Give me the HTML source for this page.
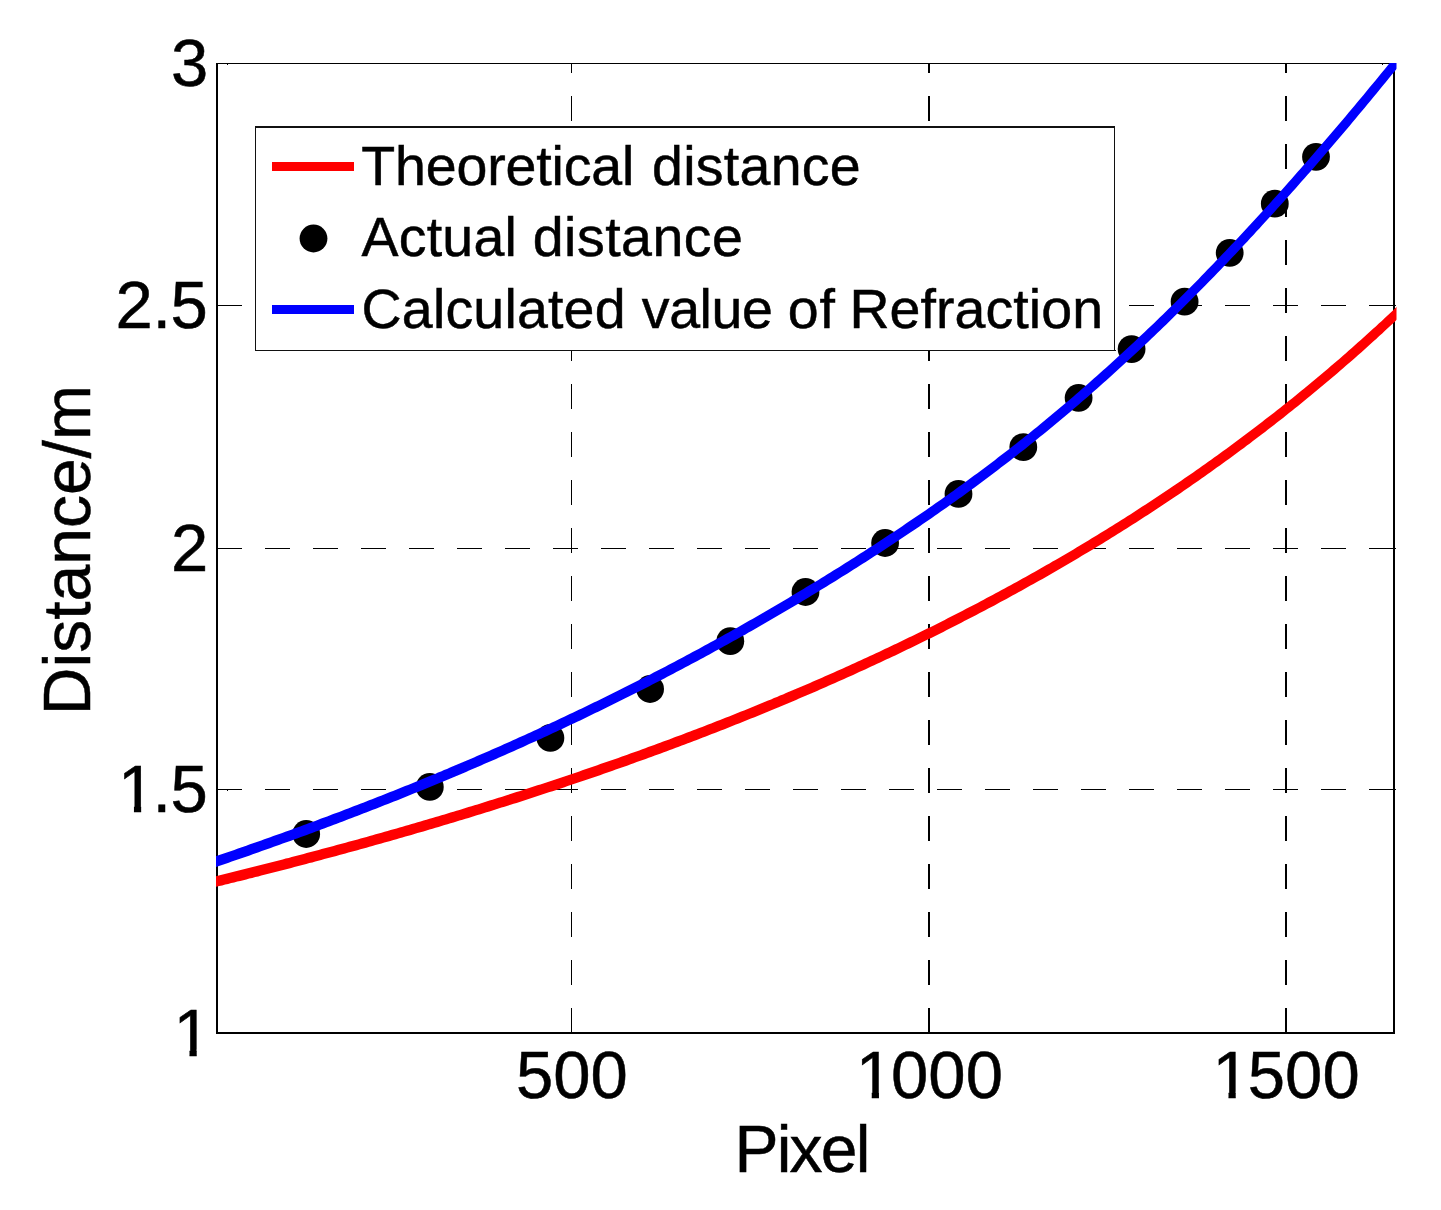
<!DOCTYPE html>
<html lang="en"><head><meta charset="utf-8"><title>Distance vs Pixel</title>
<style>
html,body{margin:0;padding:0;background:#fff;}
body{width:1441px;height:1210px;overflow:hidden;}
svg{display:block;}
text{font-family:"Liberation Sans",Arial,Helvetica,sans-serif;fill:#000;stroke:#000;stroke-width:0.5px;}
.t{font-size:67px;}
.xl{font-size:66px;}
.lg{font-size:55.5px;}
</style></head><body>
<svg width="1441" height="1210" viewBox="0 0 1441 1210">
<rect x="0" y="0" width="1441" height="1210" fill="#fff"/>
<defs><clipPath id="ax"><rect x="216" y="63" width="1180.5" height="972"/></clipPath></defs>
<g shape-rendering="crispEdges" fill="#000">
<rect x="217" y="305" width="25" height="1"/>
<rect x="265" y="305" width="25" height="1"/>
<rect x="313" y="305" width="25" height="1"/>
<rect x="361" y="305" width="25" height="1"/>
<rect x="409" y="305" width="25" height="1"/>
<rect x="457" y="305" width="25" height="1"/>
<rect x="505" y="305" width="25" height="1"/>
<rect x="553" y="305" width="25" height="1"/>
<rect x="601" y="305" width="25" height="1"/>
<rect x="649" y="305" width="25" height="1"/>
<rect x="697" y="305" width="25" height="1"/>
<rect x="745" y="305" width="25" height="1"/>
<rect x="793" y="305" width="25" height="1"/>
<rect x="841" y="305" width="25" height="1"/>
<rect x="889" y="305" width="25" height="1"/>
<rect x="937" y="305" width="25" height="1"/>
<rect x="985" y="305" width="25" height="1"/>
<rect x="1033" y="305" width="25" height="1"/>
<rect x="1081" y="305" width="25" height="1"/>
<rect x="1129" y="305" width="25" height="1"/>
<rect x="1177" y="305" width="25" height="1"/>
<rect x="1225" y="305" width="25" height="1"/>
<rect x="1273" y="305" width="25" height="1"/>
<rect x="1321" y="305" width="25" height="1"/>
<rect x="1369" y="305" width="24" height="1"/>
<rect x="217" y="548" width="25" height="1"/>
<rect x="265" y="548" width="25" height="1"/>
<rect x="313" y="548" width="25" height="1"/>
<rect x="361" y="548" width="25" height="1"/>
<rect x="409" y="548" width="25" height="1"/>
<rect x="457" y="548" width="25" height="1"/>
<rect x="505" y="548" width="25" height="1"/>
<rect x="553" y="548" width="25" height="1"/>
<rect x="601" y="548" width="25" height="1"/>
<rect x="649" y="548" width="25" height="1"/>
<rect x="697" y="548" width="25" height="1"/>
<rect x="745" y="548" width="25" height="1"/>
<rect x="793" y="548" width="25" height="1"/>
<rect x="841" y="548" width="25" height="1"/>
<rect x="889" y="548" width="25" height="1"/>
<rect x="937" y="548" width="25" height="1"/>
<rect x="985" y="548" width="25" height="1"/>
<rect x="1033" y="548" width="25" height="1"/>
<rect x="1081" y="548" width="25" height="1"/>
<rect x="1129" y="548" width="25" height="1"/>
<rect x="1177" y="548" width="25" height="1"/>
<rect x="1225" y="548" width="25" height="1"/>
<rect x="1273" y="548" width="25" height="1"/>
<rect x="1321" y="548" width="25" height="1"/>
<rect x="1369" y="548" width="24" height="1"/>
<rect x="217" y="789" width="25" height="1"/>
<rect x="265" y="789" width="25" height="1"/>
<rect x="313" y="789" width="25" height="1"/>
<rect x="361" y="789" width="25" height="1"/>
<rect x="409" y="789" width="25" height="1"/>
<rect x="457" y="789" width="25" height="1"/>
<rect x="505" y="789" width="25" height="1"/>
<rect x="553" y="789" width="25" height="1"/>
<rect x="601" y="789" width="25" height="1"/>
<rect x="649" y="789" width="25" height="1"/>
<rect x="697" y="789" width="25" height="1"/>
<rect x="745" y="789" width="25" height="1"/>
<rect x="793" y="789" width="25" height="1"/>
<rect x="841" y="789" width="25" height="1"/>
<rect x="889" y="789" width="25" height="1"/>
<rect x="937" y="789" width="25" height="1"/>
<rect x="985" y="789" width="25" height="1"/>
<rect x="1033" y="789" width="25" height="1"/>
<rect x="1081" y="789" width="25" height="1"/>
<rect x="1129" y="789" width="25" height="1"/>
<rect x="1177" y="789" width="25" height="1"/>
<rect x="1225" y="789" width="25" height="1"/>
<rect x="1273" y="789" width="25" height="1"/>
<rect x="1321" y="789" width="25" height="1"/>
<rect x="1369" y="789" width="24" height="1"/>
<rect x="571" y="1008" width="1" height="25"/>
<rect x="571" y="960" width="1" height="25"/>
<rect x="571" y="912" width="1" height="25"/>
<rect x="571" y="864" width="1" height="25"/>
<rect x="571" y="816" width="1" height="25"/>
<rect x="571" y="768" width="1" height="25"/>
<rect x="571" y="720" width="1" height="25"/>
<rect x="571" y="672" width="1" height="25"/>
<rect x="571" y="624" width="1" height="25"/>
<rect x="571" y="576" width="1" height="25"/>
<rect x="571" y="528" width="1" height="25"/>
<rect x="571" y="480" width="1" height="25"/>
<rect x="571" y="432" width="1" height="25"/>
<rect x="571" y="384" width="1" height="25"/>
<rect x="571" y="336" width="1" height="25"/>
<rect x="571" y="288" width="1" height="25"/>
<rect x="571" y="240" width="1" height="25"/>
<rect x="571" y="192" width="1" height="25"/>
<rect x="571" y="144" width="1" height="25"/>
<rect x="571" y="96" width="1" height="25"/>
<rect x="571" y="63" width="1" height="10"/>
<rect x="928" y="1008" width="2" height="25"/>
<rect x="928" y="960" width="2" height="25"/>
<rect x="928" y="912" width="2" height="25"/>
<rect x="928" y="864" width="2" height="25"/>
<rect x="928" y="816" width="2" height="25"/>
<rect x="928" y="768" width="2" height="25"/>
<rect x="928" y="720" width="2" height="25"/>
<rect x="928" y="672" width="2" height="25"/>
<rect x="928" y="624" width="2" height="25"/>
<rect x="928" y="576" width="2" height="25"/>
<rect x="928" y="528" width="2" height="25"/>
<rect x="928" y="480" width="2" height="25"/>
<rect x="928" y="432" width="2" height="25"/>
<rect x="928" y="384" width="2" height="25"/>
<rect x="928" y="336" width="2" height="25"/>
<rect x="928" y="288" width="2" height="25"/>
<rect x="928" y="240" width="2" height="25"/>
<rect x="928" y="192" width="2" height="25"/>
<rect x="928" y="144" width="2" height="25"/>
<rect x="928" y="96" width="2" height="25"/>
<rect x="928" y="63" width="2" height="10"/>
<rect x="1285" y="1008" width="2" height="25"/>
<rect x="1285" y="960" width="2" height="25"/>
<rect x="1285" y="912" width="2" height="25"/>
<rect x="1285" y="864" width="2" height="25"/>
<rect x="1285" y="816" width="2" height="25"/>
<rect x="1285" y="768" width="2" height="25"/>
<rect x="1285" y="720" width="2" height="25"/>
<rect x="1285" y="672" width="2" height="25"/>
<rect x="1285" y="624" width="2" height="25"/>
<rect x="1285" y="576" width="2" height="25"/>
<rect x="1285" y="528" width="2" height="25"/>
<rect x="1285" y="480" width="2" height="25"/>
<rect x="1285" y="432" width="2" height="25"/>
<rect x="1285" y="384" width="2" height="25"/>
<rect x="1285" y="336" width="2" height="25"/>
<rect x="1285" y="288" width="2" height="25"/>
<rect x="1285" y="240" width="2" height="25"/>
<rect x="1285" y="192" width="2" height="25"/>
<rect x="1285" y="144" width="2" height="25"/>
<rect x="1285" y="96" width="2" height="25"/>
<rect x="1285" y="63" width="2" height="10"/>
</g>
<g shape-rendering="crispEdges"><rect x="255" y="126" width="860" height="225" fill="#fff"/><g fill="#111"><rect x="255" y="126" width="860" height="2"/><rect x="255" y="350" width="861" height="1"/><rect x="255" y="126" width="1" height="225"/><rect x="1114" y="126" width="1" height="225"/></g></g>
<g shape-rendering="crispEdges" fill="#000">
<rect x="216" y="63" width="2" height="971"/>
<rect x="1393" y="63" width="2" height="971"/>
<rect x="216" y="63" width="1179" height="1"/>
<rect x="216" y="1032" width="1179" height="2"/>
<rect x="227" y="64" width="1" height="1"/><rect x="1382" y="64" width="1" height="1"/><rect x="227" y="790" width="1" height="1"/><rect x="1395" y="305" width="1" height="1"/><rect x="1395" y="548" width="1" height="1"/><rect x="1395" y="789" width="1" height="1"/>
</g>
<g fill="#000">
<circle cx="306.2" cy="834" r="13.9"/>
<circle cx="429.8" cy="786.9" r="13.9"/>
<circle cx="550.4" cy="737.9" r="13.9"/>
<circle cx="650.1" cy="689" r="13.9"/>
<circle cx="730.3" cy="641.2" r="13.9"/>
<circle cx="805.5" cy="592" r="13.9"/>
<circle cx="885.1" cy="543" r="13.9"/>
<circle cx="958.5" cy="493.9" r="13.9"/>
<circle cx="1023.3" cy="447.1" r="13.9"/>
<circle cx="1078.6" cy="397.8" r="13.9"/>
<circle cx="1131.6" cy="349.1" r="13.9"/>
<circle cx="1184.6" cy="301.7" r="13.9"/>
<circle cx="1229.7" cy="252.8" r="13.9"/>
<circle cx="1274.8" cy="203.7" r="13.9"/>
<circle cx="1316" cy="156.8" r="13.9"/>
</g>
<g clip-path="url(#ax)" stroke="none">
<path d="M210.8,877.5 L213.8,876.8 L216.8,876.0 L219.8,875.3 L222.8,874.5 L225.8,873.8 L228.8,873.1 L231.8,872.3 L234.7,871.6 L237.7,870.8 L240.7,870.1 L243.7,869.3 L246.7,868.6 L249.7,867.8 L252.7,867.1 L255.7,866.3 L258.7,865.6 L261.7,864.8 L264.7,864.0 L267.7,863.3 L270.7,862.5 L273.7,861.7 L276.7,861.0 L279.7,860.2 L282.7,859.4 L285.7,858.6 L288.7,857.9 L291.7,857.1 L294.7,856.3 L297.7,855.5 L300.7,854.7 L303.7,853.9 L306.7,853.1 L309.7,852.3 L312.7,851.5 L315.7,850.7 L318.7,850.0 L321.7,849.1 L324.7,848.3 L327.7,847.5 L330.7,846.7 L333.6,845.9 L336.6,845.1 L339.6,844.3 L342.6,843.5 L345.6,842.7 L348.6,841.8 L351.6,841.0 L354.6,840.2 L357.6,839.4 L360.6,838.5 L363.6,837.7 L366.6,836.9 L369.6,836.0 L372.6,835.2 L375.6,834.3 L378.6,833.5 L381.6,832.7 L384.6,831.8 L387.6,831.0 L390.6,830.1 L393.6,829.3 L396.6,828.4 L399.6,827.5 L402.6,826.7 L405.6,825.8 L408.6,824.9 L411.6,824.1 L414.6,823.2 L417.6,822.3 L420.6,821.5 L423.5,820.6 L426.5,819.7 L429.5,818.8 L432.5,817.9 L435.5,817.0 L438.5,816.2 L441.5,815.3 L444.5,814.4 L447.5,813.5 L450.5,812.6 L453.5,811.7 L456.5,810.8 L459.5,809.9 L462.5,808.9 L465.5,808.0 L468.5,807.1 L471.5,806.2 L474.5,805.3 L477.5,804.4 L480.5,803.4 L483.5,802.5 L486.5,801.6 L489.5,800.6 L492.5,799.7 L495.5,798.8 L498.5,797.8 L501.5,796.9 L504.4,795.9 L507.4,795.0 L510.4,794.0 L513.4,793.1 L516.4,792.1 L519.4,791.2 L522.4,790.2 L525.4,789.2 L528.4,788.3 L531.4,787.3 L534.4,786.3 L537.4,785.3 L540.4,784.4 L543.4,783.4 L546.4,782.4 L549.4,781.4 L552.4,780.4 L555.4,779.4 L558.4,778.4 L561.4,777.4 L564.4,776.4 L567.4,775.4 L570.4,774.4 L573.4,773.4 L576.4,772.4 L579.3,771.4 L582.3,770.3 L585.3,769.3 L588.3,768.3 L591.3,767.3 L594.3,766.2 L597.3,765.2 L600.3,764.1 L603.3,763.1 L606.3,762.1 L609.3,761.0 L612.3,760.0 L615.3,758.9 L618.3,757.9 L621.3,756.8 L624.3,755.7 L627.3,754.7 L630.3,753.6 L633.3,752.5 L636.3,751.4 L639.3,750.4 L642.3,749.3 L645.3,748.2 L648.2,747.1 L651.2,746.0 L654.2,744.9 L657.2,743.8 L660.2,742.7 L663.2,741.6 L666.2,740.5 L669.2,739.4 L672.2,738.3 L675.2,737.1 L678.2,736.0 L681.2,734.9 L684.2,733.8 L687.2,732.6 L690.2,731.5 L693.2,730.3 L696.2,729.2 L699.2,728.0 L702.2,726.9 L705.2,725.7 L708.2,724.6 L711.2,723.4 L714.1,722.2 L717.1,721.1 L720.1,719.9 L723.1,718.7 L726.1,717.5 L729.1,716.4 L732.1,715.2 L735.1,714.0 L738.1,712.8 L741.1,711.6 L744.1,710.4 L747.1,709.2 L750.1,708.0 L753.1,706.7 L756.1,705.5 L759.1,704.3 L762.1,703.1 L765.1,701.8 L768.1,700.6 L771.1,699.4 L774.0,698.1 L777.0,696.9 L780.0,695.6 L783.0,694.4 L786.0,693.1 L789.0,691.8 L792.0,690.6 L795.0,689.3 L798.0,688.0 L801.0,686.7 L804.0,685.5 L807.0,684.2 L810.0,682.9 L813.0,681.6 L816.0,680.3 L819.0,679.0 L822.0,677.7 L825.0,676.3 L828.0,675.0 L830.9,673.7 L833.9,672.4 L836.9,671.0 L839.9,669.7 L842.9,668.4 L845.9,667.0 L848.9,665.7 L851.9,664.3 L854.9,662.9 L857.9,661.6 L860.9,660.2 L863.9,658.8 L866.9,657.4 L869.9,656.1 L872.9,654.7 L875.9,653.3 L878.9,651.9 L881.9,650.5 L884.8,649.1 L887.8,647.7 L890.8,646.2 L893.8,644.8 L896.8,643.4 L899.8,642.0 L902.8,640.5 L905.8,639.1 L908.8,637.6 L911.8,636.2 L914.8,634.7 L917.8,633.3 L920.8,631.8 L923.8,630.3 L926.8,628.8 L929.8,627.4 L932.8,625.9 L935.8,624.4 L938.7,622.9 L941.7,621.4 L944.7,619.9 L947.7,618.3 L950.7,616.8 L953.7,615.3 L956.7,613.8 L959.7,612.2 L962.7,610.7 L965.7,609.1 L968.7,607.6 L971.7,606.0 L974.7,604.5 L977.7,602.9 L980.7,601.3 L983.7,599.7 L986.6,598.1 L989.6,596.5 L992.6,594.9 L995.6,593.3 L998.6,591.7 L1001.6,590.1 L1004.6,588.5 L1007.6,586.8 L1010.6,585.2 L1013.6,583.6 L1016.6,581.9 L1019.6,580.3 L1022.6,578.6 L1025.6,576.9 L1028.6,575.3 L1031.6,573.6 L1034.5,571.9 L1037.5,570.2 L1040.5,568.5 L1043.5,566.8 L1046.5,565.1 L1049.5,563.4 L1052.5,561.6 L1055.5,559.9 L1058.5,558.2 L1061.5,556.4 L1064.5,554.7 L1067.5,552.9 L1070.5,551.2 L1073.5,549.4 L1076.5,547.6 L1079.5,545.8 L1082.4,544.0 L1085.4,542.2 L1088.4,540.4 L1091.4,538.6 L1094.4,536.8 L1097.4,534.9 L1100.4,533.1 L1103.4,531.3 L1106.4,529.4 L1109.4,527.6 L1112.4,525.7 L1115.4,523.8 L1118.4,521.9 L1121.4,520.1 L1124.4,518.2 L1127.3,516.3 L1130.3,514.4 L1133.3,512.4 L1136.3,510.5 L1139.3,508.6 L1142.3,506.6 L1145.3,504.7 L1148.3,502.7 L1151.3,500.8 L1154.3,498.8 L1157.3,496.8 L1160.3,494.8 L1163.3,492.8 L1166.3,490.8 L1169.3,488.8 L1172.2,486.8 L1175.2,484.7 L1178.2,482.7 L1181.2,480.7 L1184.2,478.6 L1187.2,476.5 L1190.2,474.5 L1193.2,472.4 L1196.2,470.3 L1199.2,468.2 L1202.2,466.1 L1205.2,464.0 L1208.2,461.8 L1211.2,459.7 L1214.1,457.6 L1217.1,455.4 L1220.1,453.2 L1223.1,451.1 L1226.1,448.9 L1229.1,446.7 L1232.1,444.5 L1235.1,442.3 L1238.1,440.1 L1241.1,437.8 L1244.1,435.6 L1247.1,433.3 L1250.1,431.1 L1253.1,428.8 L1256.1,426.5 L1259.0,424.2 L1262.0,422.0 L1265.0,419.6 L1268.0,417.3 L1271.0,415.0 L1274.0,412.7 L1277.0,410.3 L1280.0,407.9 L1283.0,405.6 L1286.0,403.2 L1289.0,400.8 L1292.0,398.4 L1295.0,396.0 L1298.0,393.5 L1301.0,391.1 L1303.9,388.7 L1306.9,386.2 L1309.9,383.7 L1312.9,381.3 L1315.9,378.8 L1318.9,376.3 L1321.9,373.7 L1324.9,371.2 L1327.9,368.7 L1330.9,366.1 L1333.9,363.6 L1336.9,361.0 L1339.9,358.4 L1342.9,355.8 L1345.9,353.2 L1348.8,350.6 L1351.8,347.9 L1354.8,345.3 L1357.8,342.6 L1360.8,339.9 L1363.8,337.3 L1366.8,334.6 L1369.8,331.8 L1372.8,329.1 L1375.8,326.4 L1378.8,323.6 L1381.8,320.9 L1384.8,318.1 L1387.8,315.3 L1390.8,312.5 L1393.7,309.7 L1396.7,306.8 L1403.3,313.7 L1400.3,316.5 L1397.2,319.4 L1394.2,322.2 L1391.2,325.0 L1388.2,327.8 L1385.2,330.6 L1382.2,333.4 L1379.2,336.1 L1376.2,338.9 L1373.2,341.6 L1370.2,344.3 L1367.2,347.0 L1364.2,349.7 L1361.2,352.4 L1358.2,355.1 L1355.2,357.7 L1352.1,360.4 L1349.1,363.0 L1346.1,365.6 L1343.1,368.2 L1340.1,370.8 L1337.1,373.4 L1334.1,376.0 L1331.1,378.5 L1328.1,381.1 L1325.1,383.6 L1322.1,386.1 L1319.1,388.6 L1316.1,391.1 L1313.1,393.6 L1310.1,396.1 L1307.0,398.6 L1304.0,401.0 L1301.0,403.5 L1298.0,405.9 L1295.0,408.3 L1292.0,410.7 L1289.0,413.1 L1286.0,415.5 L1283.0,417.9 L1280.0,420.3 L1277.0,422.6 L1274.0,425.0 L1271.0,427.3 L1268.0,429.6 L1265.0,431.9 L1261.9,434.3 L1258.9,436.5 L1255.9,438.8 L1252.9,441.1 L1249.9,443.4 L1246.9,445.6 L1243.9,447.9 L1240.9,450.1 L1237.9,452.3 L1234.9,454.5 L1231.9,456.8 L1228.9,459.0 L1225.9,461.1 L1222.9,463.3 L1219.9,465.5 L1216.8,467.6 L1213.8,469.8 L1210.8,471.9 L1207.8,474.1 L1204.8,476.2 L1201.8,478.3 L1198.8,480.4 L1195.8,482.5 L1192.8,484.6 L1189.8,486.7 L1186.8,488.7 L1183.8,490.8 L1180.8,492.9 L1177.8,494.9 L1174.7,496.9 L1171.7,499.0 L1168.7,501.0 L1165.7,503.0 L1162.7,505.0 L1159.7,507.0 L1156.7,509.0 L1153.7,511.0 L1150.7,512.9 L1147.7,514.9 L1144.7,516.8 L1141.7,518.8 L1138.7,520.7 L1135.7,522.7 L1132.7,524.6 L1129.6,526.5 L1126.6,528.4 L1123.6,530.3 L1120.6,532.2 L1117.6,534.1 L1114.6,536.0 L1111.6,537.8 L1108.6,539.7 L1105.6,541.5 L1102.6,543.4 L1099.6,545.2 L1096.6,547.1 L1093.6,548.9 L1090.6,550.7 L1087.6,552.5 L1084.5,554.3 L1081.5,556.1 L1078.5,557.9 L1075.5,559.7 L1072.5,561.5 L1069.5,563.2 L1066.5,565.0 L1063.5,566.8 L1060.5,568.5 L1057.5,570.3 L1054.5,572.0 L1051.5,573.7 L1048.5,575.4 L1045.5,577.2 L1042.5,578.9 L1039.5,580.6 L1036.4,582.3 L1033.4,584.0 L1030.4,585.6 L1027.4,587.3 L1024.4,589.0 L1021.4,590.7 L1018.4,592.3 L1015.4,594.0 L1012.4,595.6 L1009.4,597.3 L1006.4,598.9 L1003.4,600.5 L1000.4,602.1 L997.4,603.8 L994.4,605.4 L991.4,607.0 L988.3,608.6 L985.3,610.2 L982.3,611.7 L979.3,613.3 L976.3,614.9 L973.3,616.5 L970.3,618.0 L967.3,619.6 L964.3,621.1 L961.3,622.7 L958.3,624.2 L955.3,625.8 L952.3,627.3 L949.3,628.8 L946.3,630.3 L943.3,631.9 L940.2,633.4 L937.2,634.9 L934.2,636.4 L931.2,637.9 L928.2,639.3 L925.2,640.8 L922.2,642.3 L919.2,643.8 L916.2,645.2 L913.2,646.7 L910.2,648.2 L907.2,649.6 L904.2,651.0 L901.2,652.5 L898.2,653.9 L895.2,655.4 L892.2,656.8 L889.2,658.2 L886.1,659.6 L883.1,661.0 L880.1,662.4 L877.1,663.8 L874.1,665.2 L871.1,666.6 L868.1,668.0 L865.1,669.4 L862.1,670.8 L859.1,672.1 L856.1,673.5 L853.1,674.9 L850.1,676.2 L847.1,677.6 L844.1,678.9 L841.1,680.3 L838.1,681.6 L835.1,682.9 L832.0,684.3 L829.0,685.6 L826.0,686.9 L823.0,688.2 L820.0,689.6 L817.0,690.9 L814.0,692.2 L811.0,693.5 L808.0,694.8 L805.0,696.1 L802.0,697.3 L799.0,698.6 L796.0,699.9 L793.0,701.2 L790.0,702.5 L787.0,703.7 L784.0,705.0 L781.0,706.2 L778.0,707.5 L774.9,708.7 L771.9,710.0 L768.9,711.2 L765.9,712.5 L762.9,713.7 L759.9,714.9 L756.9,716.2 L753.9,717.4 L750.9,718.6 L747.9,719.8 L744.9,721.0 L741.9,722.2 L738.9,723.4 L735.9,724.6 L732.9,725.8 L729.9,727.0 L726.9,728.2 L723.9,729.4 L720.9,730.6 L717.9,731.7 L714.8,732.9 L711.8,734.1 L708.8,735.2 L705.8,736.4 L702.8,737.6 L699.8,738.7 L696.8,739.9 L693.8,741.0 L690.8,742.2 L687.8,743.3 L684.8,744.4 L681.8,745.6 L678.8,746.7 L675.8,747.8 L672.8,748.9 L669.8,750.1 L666.8,751.2 L663.8,752.3 L660.8,753.4 L657.8,754.5 L654.8,755.6 L651.8,756.7 L648.7,757.8 L645.7,758.9 L642.7,760.0 L639.7,761.1 L636.7,762.1 L633.7,763.2 L630.7,764.3 L627.7,765.4 L624.7,766.4 L621.7,767.5 L618.7,768.6 L615.7,769.6 L612.7,770.7 L609.7,771.7 L606.7,772.8 L603.7,773.8 L600.7,774.9 L597.7,775.9 L594.7,776.9 L591.7,778.0 L588.7,779.0 L585.7,780.0 L582.7,781.1 L579.6,782.1 L576.6,783.1 L573.6,784.1 L570.6,785.1 L567.6,786.1 L564.6,787.2 L561.6,788.2 L558.6,789.2 L555.6,790.2 L552.6,791.2 L549.6,792.1 L546.6,793.1 L543.6,794.1 L540.6,795.1 L537.6,796.1 L534.6,797.1 L531.6,798.0 L528.6,799.0 L525.6,800.0 L522.6,800.9 L519.6,801.9 L516.6,802.9 L513.6,803.8 L510.6,804.8 L507.6,805.7 L504.5,806.7 L501.5,807.6 L498.5,808.6 L495.5,809.5 L492.5,810.5 L489.5,811.4 L486.5,812.3 L483.5,813.3 L480.5,814.2 L477.5,815.1 L474.5,816.0 L471.5,817.0 L468.5,817.9 L465.5,818.8 L462.5,819.7 L459.5,820.6 L456.5,821.5 L453.5,822.4 L450.5,823.3 L447.5,824.2 L444.5,825.1 L441.5,826.0 L438.5,826.9 L435.5,827.8 L432.5,828.7 L429.5,829.6 L426.5,830.5 L423.4,831.4 L420.4,832.2 L417.4,833.1 L414.4,834.0 L411.4,834.9 L408.4,835.7 L405.4,836.6 L402.4,837.5 L399.4,838.3 L396.4,839.2 L393.4,840.0 L390.4,840.9 L387.4,841.8 L384.4,842.6 L381.4,843.5 L378.4,844.3 L375.4,845.1 L372.4,846.0 L369.4,846.8 L366.4,847.7 L363.4,848.5 L360.4,849.3 L357.4,850.2 L354.4,851.0 L351.4,851.8 L348.4,852.6 L345.4,853.5 L342.4,854.3 L339.4,855.1 L336.4,855.9 L333.3,856.7 L330.3,857.5 L327.3,858.3 L324.3,859.1 L321.3,860.0 L318.3,860.8 L315.3,861.6 L312.3,862.4 L309.3,863.1 L306.3,863.9 L303.3,864.7 L300.3,865.5 L297.3,866.3 L294.3,867.1 L291.3,867.9 L288.3,868.7 L285.3,869.4 L282.3,870.2 L279.3,871.0 L276.3,871.8 L273.3,872.5 L270.3,873.3 L267.3,874.1 L264.3,874.8 L261.3,875.6 L258.3,876.4 L255.3,877.1 L252.3,877.9 L249.3,878.6 L246.3,879.4 L243.3,880.2 L240.3,880.9 L237.3,881.6 L234.2,882.4 L231.2,883.1 L228.2,883.9 L225.2,884.6 L222.2,885.4 L219.2,886.1 L216.2,886.8 L213.2,887.6Z" fill="#f00"/>
<path d="M210.3,858.1 L213.3,857.1 L216.3,856.0 L219.3,855.0 L222.3,854.0 L225.3,853.0 L228.3,851.9 L231.3,850.9 L234.3,849.9 L237.3,848.8 L240.3,847.8 L243.3,846.7 L246.3,845.7 L249.3,844.6 L252.3,843.6 L255.3,842.5 L258.3,841.5 L261.3,840.4 L264.3,839.3 L267.3,838.3 L270.3,837.2 L273.3,836.1 L276.3,835.1 L279.3,834.0 L282.3,832.9 L285.3,831.8 L288.3,830.7 L291.3,829.7 L294.2,828.6 L297.2,827.5 L300.2,826.4 L303.2,825.3 L306.2,824.2 L309.2,823.1 L312.2,822.0 L315.2,820.9 L318.2,819.7 L321.2,818.6 L324.2,817.5 L327.2,816.4 L330.2,815.3 L333.2,814.1 L336.2,813.0 L339.2,811.9 L342.2,810.7 L345.2,809.6 L348.2,808.4 L351.2,807.3 L354.2,806.1 L357.2,805.0 L360.2,803.8 L363.2,802.7 L366.2,801.5 L369.1,800.3 L372.1,799.2 L375.1,798.0 L378.1,796.8 L381.1,795.7 L384.1,794.5 L387.1,793.3 L390.1,792.1 L393.1,790.9 L396.1,789.7 L399.1,788.5 L402.1,787.3 L405.1,786.1 L408.1,784.9 L411.1,783.7 L414.1,782.5 L417.1,781.3 L420.1,780.0 L423.1,778.8 L426.1,777.6 L429.1,776.3 L432.1,775.1 L435.1,773.9 L438.0,772.6 L441.0,771.4 L444.0,770.1 L447.0,768.9 L450.0,767.6 L453.0,766.3 L456.0,765.1 L459.0,763.8 L462.0,762.5 L465.0,761.3 L468.0,760.0 L471.0,758.7 L474.0,757.4 L477.0,756.1 L480.0,754.8 L483.0,753.5 L486.0,752.2 L489.0,750.9 L492.0,749.6 L495.0,748.3 L498.0,747.0 L501.0,745.7 L503.9,744.3 L506.9,743.0 L509.9,741.7 L512.9,740.3 L515.9,739.0 L518.9,737.6 L521.9,736.3 L524.9,734.9 L527.9,733.6 L530.9,732.2 L533.9,730.8 L536.9,729.5 L539.9,728.1 L542.9,726.7 L545.9,725.3 L548.9,723.9 L551.9,722.6 L554.9,721.2 L557.9,719.8 L560.9,718.3 L563.8,716.9 L566.8,715.5 L569.8,714.1 L572.8,712.7 L575.8,711.3 L578.8,709.8 L581.8,708.4 L584.8,707.0 L587.8,705.5 L590.8,704.1 L593.8,702.6 L596.8,701.2 L599.8,699.7 L602.8,698.2 L605.8,696.8 L608.8,695.3 L611.8,693.8 L614.8,692.3 L617.8,690.8 L620.8,689.3 L623.7,687.8 L626.7,686.3 L629.7,684.8 L632.7,683.3 L635.7,681.8 L638.7,680.3 L641.7,678.8 L644.7,677.2 L647.7,675.7 L650.7,674.2 L653.7,672.6 L656.7,671.1 L659.7,669.5 L662.7,668.0 L665.7,666.4 L668.7,664.8 L671.7,663.2 L674.7,661.7 L677.7,660.1 L680.7,658.5 L683.6,656.9 L686.6,655.3 L689.6,653.7 L692.6,652.1 L695.6,650.5 L698.6,648.9 L701.6,647.2 L704.6,645.6 L707.6,644.0 L710.6,642.3 L713.6,640.7 L716.6,639.0 L719.6,637.4 L722.6,635.7 L725.6,634.1 L728.6,632.4 L731.6,630.7 L734.6,629.1 L737.6,627.4 L740.5,625.7 L743.5,624.0 L746.5,622.3 L749.5,620.6 L752.5,618.9 L755.5,617.2 L758.5,615.4 L761.5,613.7 L764.5,612.0 L767.5,610.2 L770.5,608.5 L773.5,606.7 L776.5,605.0 L779.5,603.2 L782.5,601.5 L785.5,599.7 L788.5,597.9 L791.5,596.1 L794.5,594.3 L797.4,592.6 L800.4,590.8 L803.4,589.0 L806.4,587.1 L809.4,585.3 L812.4,583.5 L815.4,581.7 L818.4,579.9 L821.4,578.0 L824.4,576.2 L827.4,574.3 L830.4,572.5 L833.4,570.6 L836.4,568.7 L839.4,566.9 L842.4,565.0 L845.4,563.1 L848.4,561.2 L851.4,559.3 L854.4,557.4 L857.3,555.5 L860.3,553.6 L863.3,551.7 L866.3,549.8 L869.3,547.8 L872.3,545.9 L875.3,543.9 L878.3,542.0 L881.3,540.0 L884.3,538.1 L887.3,536.1 L890.3,534.1 L893.3,532.2 L896.3,530.2 L899.3,528.2 L902.3,526.2 L905.3,524.1 L908.2,522.1 L911.2,520.1 L914.2,518.1 L917.2,516.0 L920.2,514.0 L923.2,511.9 L926.2,509.9 L929.2,507.8 L932.2,505.7 L935.2,503.6 L938.2,501.5 L941.2,499.4 L944.2,497.3 L947.2,495.2 L950.2,493.0 L953.2,490.9 L956.1,488.7 L959.1,486.6 L962.1,484.4 L965.1,482.2 L968.1,480.0 L971.1,477.8 L974.1,475.6 L977.1,473.4 L980.1,471.2 L983.1,469.0 L986.1,466.7 L989.1,464.5 L992.1,462.2 L995.1,459.9 L998.0,457.6 L1001.0,455.3 L1004.0,453.0 L1007.0,450.7 L1010.0,448.4 L1013.0,446.0 L1016.0,443.7 L1019.0,441.3 L1022.0,438.9 L1025.0,436.6 L1028.0,434.2 L1031.0,431.8 L1034.0,429.3 L1037.0,426.9 L1039.9,424.5 L1042.9,422.0 L1045.9,419.6 L1048.9,417.1 L1051.9,414.6 L1054.9,412.1 L1057.9,409.6 L1060.9,407.1 L1063.9,404.6 L1066.9,402.0 L1069.9,399.5 L1072.9,396.9 L1075.9,394.3 L1078.9,391.7 L1081.9,389.1 L1084.9,386.5 L1087.8,383.9 L1090.8,381.3 L1093.8,378.6 L1096.8,376.0 L1099.8,373.3 L1102.8,370.6 L1105.8,367.9 L1108.8,365.2 L1111.8,362.5 L1114.8,359.8 L1117.8,357.1 L1120.8,354.3 L1123.8,351.6 L1126.8,348.8 L1129.8,346.0 L1132.8,343.2 L1135.8,340.4 L1138.7,337.6 L1141.7,334.8 L1144.7,331.9 L1147.7,329.1 L1150.7,326.2 L1153.7,323.4 L1156.7,320.5 L1159.7,317.6 L1162.7,314.7 L1165.7,311.7 L1168.7,308.8 L1171.7,305.9 L1174.7,302.9 L1177.7,300.0 L1180.7,297.0 L1183.7,294.0 L1186.7,291.0 L1189.7,288.0 L1192.7,284.9 L1195.7,281.9 L1198.7,278.9 L1201.6,275.8 L1204.6,272.7 L1207.6,269.6 L1210.6,266.6 L1213.6,263.4 L1216.6,260.3 L1219.6,257.2 L1222.6,254.1 L1225.6,250.9 L1228.6,247.8 L1231.6,244.6 L1234.6,241.4 L1237.6,238.2 L1240.6,235.0 L1243.6,231.8 L1246.6,228.6 L1249.6,225.3 L1252.6,222.1 L1255.6,218.8 L1258.6,215.6 L1261.6,212.3 L1264.6,209.0 L1267.6,205.7 L1270.6,202.4 L1273.6,199.1 L1276.6,195.7 L1279.6,192.4 L1282.6,189.0 L1285.5,185.7 L1288.5,182.3 L1291.5,178.9 L1294.5,175.5 L1297.5,172.1 L1300.5,168.7 L1303.5,165.3 L1306.5,161.9 L1309.5,158.4 L1312.5,155.0 L1315.5,151.5 L1318.5,148.0 L1321.5,144.6 L1324.5,141.1 L1327.5,137.6 L1330.5,134.1 L1333.5,130.5 L1336.5,127.0 L1339.5,123.5 L1342.5,119.9 L1345.5,116.4 L1348.5,112.8 L1351.5,109.3 L1354.5,105.7 L1357.5,102.1 L1360.5,98.5 L1363.5,94.9 L1366.5,91.3 L1369.5,87.6 L1372.5,84.0 L1375.5,80.4 L1378.5,76.7 L1381.5,73.0 L1384.5,69.4 L1387.5,65.7 L1390.5,62.0 L1393.5,58.3 L1396.5,54.6 L1403.5,60.3 L1400.5,64.0 L1397.5,67.8 L1394.5,71.4 L1391.5,75.1 L1388.5,78.8 L1385.5,82.5 L1382.5,86.1 L1379.5,89.8 L1376.5,93.4 L1373.5,97.1 L1370.5,100.7 L1367.5,104.3 L1364.5,107.9 L1361.5,111.5 L1358.5,115.1 L1355.5,118.7 L1352.5,122.3 L1349.5,125.9 L1346.5,129.4 L1343.5,133.0 L1340.5,136.5 L1337.5,140.0 L1334.5,143.5 L1331.5,147.0 L1328.5,150.6 L1325.5,154.0 L1322.5,157.5 L1319.5,161.0 L1316.5,164.5 L1313.5,167.9 L1310.5,171.4 L1307.5,174.8 L1304.5,178.2 L1301.5,181.6 L1298.5,185.0 L1295.5,188.4 L1292.5,191.8 L1289.4,195.2 L1286.4,198.5 L1283.4,201.9 L1280.4,205.2 L1277.4,208.6 L1274.4,211.9 L1271.4,215.2 L1268.4,218.5 L1265.4,221.8 L1262.4,225.1 L1259.4,228.4 L1256.4,231.6 L1253.4,234.9 L1250.4,238.1 L1247.4,241.4 L1244.4,244.6 L1241.4,247.8 L1238.4,251.0 L1235.4,254.2 L1232.4,257.3 L1229.4,260.5 L1226.4,263.7 L1223.4,266.8 L1220.4,269.9 L1217.4,273.1 L1214.4,276.2 L1211.4,279.3 L1208.4,282.3 L1205.3,285.4 L1202.3,288.5 L1199.3,291.5 L1196.3,294.6 L1193.3,297.6 L1190.3,300.6 L1187.3,303.6 L1184.3,306.6 L1181.3,309.6 L1178.3,312.6 L1175.3,315.5 L1172.3,318.5 L1169.3,321.4 L1166.3,324.4 L1163.3,327.3 L1160.3,330.2 L1157.3,333.1 L1154.3,335.9 L1151.3,338.8 L1148.3,341.7 L1145.3,344.5 L1142.2,347.3 L1139.2,350.2 L1136.2,353.0 L1133.2,355.8 L1130.2,358.5 L1127.2,361.3 L1124.2,364.1 L1121.2,366.8 L1118.2,369.6 L1115.2,372.3 L1112.2,375.0 L1109.2,377.7 L1106.2,380.4 L1103.2,383.1 L1100.2,385.8 L1097.2,388.4 L1094.2,391.1 L1091.1,393.7 L1088.1,396.4 L1085.1,399.0 L1082.1,401.6 L1079.1,404.2 L1076.1,406.7 L1073.1,409.3 L1070.1,411.9 L1067.1,414.4 L1064.1,417.0 L1061.1,419.5 L1058.1,422.0 L1055.1,424.5 L1052.1,427.0 L1049.1,429.5 L1046.1,431.9 L1043.0,434.4 L1040.0,436.8 L1037.0,439.3 L1034.0,441.7 L1031.0,444.1 L1028.0,446.5 L1025.0,448.9 L1022.0,451.3 L1019.0,453.6 L1016.0,456.0 L1013.0,458.3 L1010.0,460.7 L1007.0,463.0 L1004.0,465.3 L1000.9,467.6 L997.9,469.9 L994.9,472.2 L991.9,474.5 L988.9,476.7 L985.9,479.0 L982.9,481.2 L979.9,483.5 L976.9,485.7 L973.9,487.9 L970.9,490.1 L967.9,492.3 L964.9,494.5 L961.9,496.7 L958.8,498.8 L955.8,501.0 L952.8,503.1 L949.8,505.3 L946.8,507.4 L943.8,509.5 L940.8,511.6 L937.8,513.7 L934.8,515.8 L931.8,517.9 L928.8,520.0 L925.8,522.1 L922.8,524.1 L919.8,526.2 L916.8,528.2 L913.8,530.3 L910.7,532.3 L907.7,534.3 L904.7,536.3 L901.7,538.3 L898.7,540.3 L895.7,542.3 L892.7,544.3 L889.7,546.3 L886.7,548.3 L883.7,550.2 L880.7,552.2 L877.7,554.2 L874.7,556.1 L871.7,558.1 L868.7,560.0 L865.7,561.9 L862.7,563.8 L859.6,565.8 L856.6,567.7 L853.6,569.6 L850.6,571.5 L847.6,573.4 L844.6,575.2 L841.6,577.1 L838.6,579.0 L835.6,580.9 L832.6,582.7 L829.6,584.6 L826.6,586.4 L823.6,588.3 L820.6,590.1 L817.6,592.0 L814.6,593.8 L811.6,595.6 L808.6,597.4 L805.6,599.3 L802.6,601.1 L799.5,602.9 L796.5,604.7 L793.5,606.5 L790.5,608.2 L787.5,610.0 L784.5,611.8 L781.5,613.6 L778.5,615.3 L775.5,617.1 L772.5,618.8 L769.5,620.6 L766.5,622.3 L763.5,624.1 L760.5,625.8 L757.5,627.5 L754.5,629.2 L751.5,630.9 L748.5,632.6 L745.5,634.4 L742.4,636.1 L739.4,637.7 L736.4,639.4 L733.4,641.1 L730.4,642.8 L727.4,644.5 L724.4,646.1 L721.4,647.8 L718.4,649.4 L715.4,651.1 L712.4,652.7 L709.4,654.4 L706.4,656.0 L703.4,657.7 L700.4,659.3 L697.4,660.9 L694.4,662.5 L691.4,664.1 L688.4,665.7 L685.3,667.3 L682.3,668.9 L679.3,670.5 L676.3,672.1 L673.3,673.7 L670.3,675.3 L667.3,676.8 L664.3,678.4 L661.3,680.0 L658.3,681.5 L655.3,683.1 L652.3,684.6 L649.3,686.2 L646.3,687.7 L643.3,689.2 L640.3,690.8 L637.3,692.3 L634.3,693.8 L631.3,695.3 L628.3,696.8 L625.2,698.3 L622.2,699.8 L619.2,701.3 L616.2,702.8 L613.2,704.3 L610.2,705.8 L607.2,707.3 L604.2,708.7 L601.2,710.2 L598.2,711.7 L595.2,713.1 L592.2,714.6 L589.2,716.0 L586.2,717.5 L583.2,718.9 L580.2,720.4 L577.2,721.8 L574.2,723.2 L571.2,724.6 L568.2,726.1 L565.1,727.5 L562.1,728.9 L559.1,730.3 L556.1,731.7 L553.1,733.1 L550.1,734.5 L547.1,735.9 L544.1,737.3 L541.1,738.7 L538.1,740.0 L535.1,741.4 L532.1,742.8 L529.1,744.1 L526.1,745.5 L523.1,746.9 L520.1,748.2 L517.1,749.6 L514.1,750.9 L511.1,752.2 L508.1,753.6 L505.0,754.9 L502.0,756.2 L499.0,757.6 L496.0,758.9 L493.0,760.2 L490.0,761.5 L487.0,762.8 L484.0,764.1 L481.0,765.4 L478.0,766.7 L475.0,768.0 L472.0,769.3 L469.0,770.6 L466.0,771.9 L463.0,773.2 L460.0,774.4 L457.0,775.7 L454.0,777.0 L451.0,778.2 L448.0,779.5 L445.0,780.7 L442.0,782.0 L438.9,783.3 L435.9,784.5 L432.9,785.7 L429.9,787.0 L426.9,788.2 L423.9,789.4 L420.9,790.7 L417.9,791.9 L414.9,793.1 L411.9,794.3 L408.9,795.5 L405.9,796.8 L402.9,798.0 L399.9,799.2 L396.9,800.4 L393.9,801.6 L390.9,802.8 L387.9,803.9 L384.9,805.1 L381.9,806.3 L378.9,807.5 L375.9,808.7 L372.9,809.8 L369.8,811.0 L366.8,812.2 L363.8,813.3 L360.8,814.5 L357.8,815.7 L354.8,816.8 L351.8,818.0 L348.8,819.1 L345.8,820.3 L342.8,821.4 L339.8,822.5 L336.8,823.7 L333.8,824.8 L330.8,825.9 L327.8,827.1 L324.8,828.2 L321.8,829.3 L318.8,830.4 L315.8,831.5 L312.8,832.7 L309.8,833.8 L306.8,834.9 L303.8,836.0 L300.8,837.1 L297.8,838.2 L294.7,839.3 L291.7,840.4 L288.7,841.4 L285.7,842.5 L282.7,843.6 L279.7,844.7 L276.7,845.8 L273.7,846.8 L270.7,847.9 L267.7,849.0 L264.7,850.1 L261.7,851.1 L258.7,852.2 L255.7,853.2 L252.7,854.3 L249.7,855.4 L246.7,856.4 L243.7,857.5 L240.7,858.5 L237.7,859.5 L234.7,860.6 L231.7,861.6 L228.7,862.7 L225.7,863.7 L222.7,864.7 L219.7,865.8 L216.7,866.8 L213.7,867.8Z" fill="#00f"/>
</g>
<g shape-rendering="crispEdges">
<rect x="272" y="162" width="82" height="9" fill="#f00"/>
<rect x="272" y="305" width="82" height="9" fill="#00f"/>
</g>
<circle cx="313.5" cy="238.5" r="13.9" fill="#000"/>
<text class="lg" y="184.8"><tspan x="361.33" style="letter-spacing:-0.148px">Theoretical </tspan><tspan x="652.04" style="letter-spacing:0.275px">distance</tspan></text>
<text class="lg" y="256.4"><tspan x="361.57" style="letter-spacing:0.205px">Actual </tspan><tspan x="532.74" style="letter-spacing:0.489px">distance</tspan></text>
<text class="lg" y="328.0"><tspan x="361.57" style="letter-spacing:0.189px">Calculated </tspan><tspan x="641.81" style="letter-spacing:-0.413px">value </tspan><tspan x="787.74" style="letter-spacing:0.806px">of </tspan><tspan x="849.45" style="letter-spacing:0.077px">Refraction</tspan></text>
<text class="t" x="171" y="86.2">3</text>
<text class="t" x="115.56" y="327.8" style="letter-spacing:-0.43px">2.5</text>
<text class="t" x="171" y="571.3">2</text>
<clipPath id="c1_1"><rect x="109.55" y="749.9" width="260" height="55.8"/><rect x="133.95" y="805.3" width="7.2" height="9.6"/><rect x="154.25" y="805.3" width="220" height="9.6"/></clipPath>
<text class="t" x="115.55" y="811.9" clip-path="url(#c1_1)" style="letter-spacing:-0.43px"><tspan dx="2.5">1</tspan><tspan dx="-2.5">.5</tspan></text>
<clipPath id="c1_2"><rect x="167.6" y="993.8" width="260" height="55.8"/><rect x="189.50" y="1049.2" width="7.2" height="9.6"/><rect x="209.80" y="1049.2" width="220" height="9.6"/></clipPath>
<text class="t" x="173.6" y="1055.8" clip-path="url(#c1_2)">1</text>
<text class="t" x="516" y="1098">500</text>
<clipPath id="c1_3"><rect x="847.85" y="1036" width="260" height="55.8"/><rect x="871.75" y="1091.4" width="7.2" height="9.6"/><rect x="892.05" y="1091.4" width="220" height="9.6"/></clipPath>
<text class="t" x="853.85" y="1098" clip-path="url(#c1_3)"><tspan dx="2">1</tspan><tspan dx="-2">000</tspan></text>
<clipPath id="c1_4"><rect x="1204.6" y="1036" width="260" height="55.8"/><rect x="1228.50" y="1091.4" width="7.2" height="9.6"/><rect x="1248.80" y="1091.4" width="220" height="9.6"/></clipPath>
<text class="t" x="1210.6" y="1098" clip-path="url(#c1_4)"><tspan dx="2">1</tspan><tspan dx="-2">500</tspan></text>
<text class="xl" x="734.56" y="1171.8" style="letter-spacing:-1.824px">Pixel</text>
<text class="xl" transform="translate(89.9,715.2) rotate(-90)">Distance/m</text>
</svg></body></html>
